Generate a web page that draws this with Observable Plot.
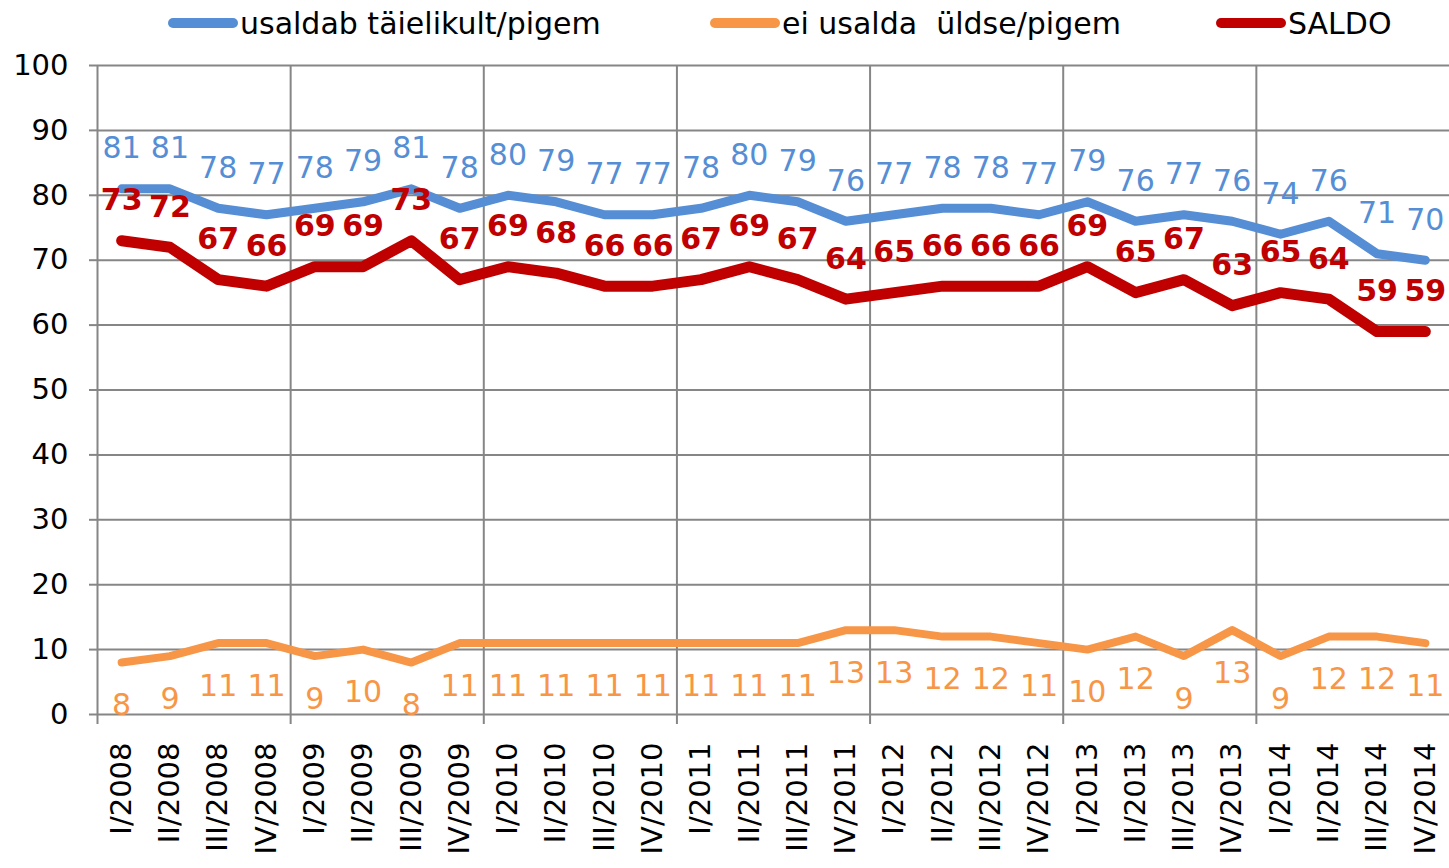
<!DOCTYPE html>
<html>
<head>
<meta charset="utf-8">
<script src="https://cdn.jsdelivr.net/npm/d3@7"></script>
<script src="https://cdn.jsdelivr.net/npm/@observablehq/plot@0.6"></script>
<style>
  html, body { margin: 0; padding: 0; background: #fff; }
  #legend { position: relative; width: 1449px; height: 46px; font-family: "DejaVu Sans", sans-serif; font-size: 30px; color: #000; }
  .item { position: absolute; top: 0; height: 46px; display: flex; align-items: center; white-space: pre; }
  .sw { display: inline-block; width: 70px; height: 10px; border-radius: 5px; margin-right: 2px; }
</style>
</head>
<body>
<div id="legend"></div>
<div id="chart"></div>
<script>
const quarters = ["I/2008","II/2008","III/2008","IV/2008","I/2009","II/2009","III/2009","IV/2009",
  "I/2010","II/2010","III/2010","IV/2010","I/2011","II/2011","III/2011","IV/2011",
  "I/2012","II/2012","III/2012","IV/2012","I/2013","II/2013","III/2013","IV/2013",
  "I/2014","II/2014","III/2014","IV/2014"];
const trust    = [81,81,78,77,78,79,81,78,80,79,77,77,78,80,79,76,77,78,78,77,79,76,77,76,74,76,71,70];
const distrust = [8,9,11,11,9,10,8,11,11,11,11,11,11,11,11,13,13,12,12,11,10,12,9,13,9,12,12,11];
const saldo    = [73,72,67,66,69,69,73,67,69,68,66,66,67,69,67,64,65,66,66,66,69,65,67,63,65,64,59,59];
const seriesNames = ["usaldab täielikult/pigem", "ei usalda  üldse/pigem", "SALDO"];
const colors = ["#558ED5", "#F79646", "#C00000"];
const yTicks = d3.range(0, 101, 10);

// legend
const legendX = [168, 710, 1216];
const legend = document.getElementById("legend");
seriesNames.forEach((name, k) => {
  const it = document.createElement("div");
  it.className = "item";
  it.style.left = legendX[k] + "px";
  const sw = document.createElement("span");
  sw.className = "sw";
  sw.style.background = colors[k];
  it.appendChild(sw);
  it.appendChild(document.createTextNode(name));
  legend.appendChild(it);
});

const idx = d3.range(quarters.length);
const boundaries = d3.range(-0.5, quarters.length - 1, 4);
const font = "DejaVu Sans";

const chart = Plot.plot({
  width: 1449,
  height: 822,
  marginLeft: 97,
  marginRight: 0,
  marginTop: 19,
  marginBottom: 154,
  style: { fontFamily: font, fontSize: "29px", color: "#000", background: "#fff" },
  x: { type: "linear", domain: [-0.5, quarters.length - 0.5], axis: null },
  y: { domain: [0, 100], axis: null },
  marks: [
    Plot.ruleY(yTicks, { stroke: "#868686", strokeWidth: 2 }),
    Plot.ruleX(boundaries, { y1: 100, y2: 0, stroke: "#868686", strokeWidth: 2, insetBottom: -10 }),
    Plot.axisY({ ticks: yTicks, tickSize: 8, tickPadding: 21, stroke: "#868686", strokeWidth: 2, fontSize: 29, tickFormat: d3.format("d") }),
    Plot.axisX({ ticks: idx, tickFormat: i => quarters[i], tickRotate: -90, tickSize: 0, tickPadding: 28, fontSize: 29 }),
    Plot.line(idx, { x: i => i, y: i => trust[i], stroke: colors[0], strokeWidth: 9, strokeLinecap: "round", strokeLinejoin: "round" }),
    Plot.line(idx, { x: i => i, y: i => distrust[i], stroke: colors[1], strokeWidth: 8, strokeLinecap: "round", strokeLinejoin: "round" }),
    Plot.line(idx, { x: i => i, y: i => saldo[i], stroke: colors[2], strokeWidth: 11, strokeLinecap: "round", strokeLinejoin: "round" }),
    Plot.text(idx, { x: i => i, y: i => trust[i], text: i => String(trust[i]), dy: -40, fill: colors[0], fontSize: 30 }),
    Plot.text(idx, { x: i => i, y: i => distrust[i], text: i => String(distrust[i]), dy: 43, fill: colors[1], fontSize: 30 }),
    Plot.text(idx, { x: i => i, y: i => saldo[i], text: i => String(saldo[i]), dy: -40, fill: colors[2], fontSize: 30, fontWeight: "bold" })
  ]
});
document.getElementById("chart").appendChild(chart);
</script>
</body>
</html>
